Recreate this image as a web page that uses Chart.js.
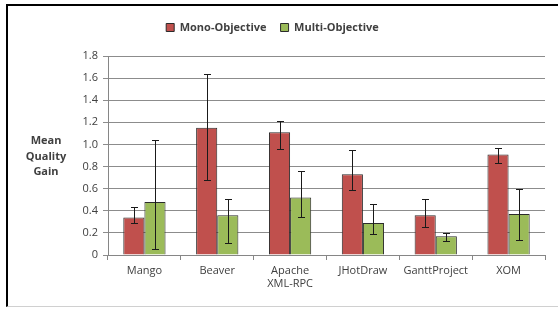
<!DOCTYPE html>
<html>
<head>
<meta charset="utf-8">
<script src="https://cdn.jsdelivr.net/npm/chart.js@4/dist/chart.umd.min.js"></script>
<style>
  body { margin: 0; background: #fff; }
  #frame {
    position: absolute; left: 6px; top: 4px; width: 552px; height: 303px;
    border-top: 2px solid #000; border-left: 2px solid #000; border-bottom: 1px solid #d0d0d0;
    box-sizing: border-box;
  }
  #wrap { position: absolute; left: 0; top: 0; width: 558px; height: 309px; }
</style>
</head>
<body>
<div id="frame"></div>
<div id="wrap"><canvas id="gainChart"></canvas></div>
<script>
const projects = ['Mango', 'Beaver', ['Apache', 'XML-RPC'], 'JHotDraw', 'GanttProject', 'XOM'];
const monoGain = [0.34, 1.15, 1.11, 0.73, 0.36, 0.91];
const monoLow = [0.29, 0.68, 0.96, 0.59, 0.25, 0.83];
const monoHigh = [0.43, 1.64, 1.21, 0.95, 0.51, 0.97];
const multiGain = [0.48, 0.36, 0.52, 0.29, 0.17, 0.37];
const multiLow = [0.05, 0.11, 0.34, 0.19, 0.13, 0.14];
const multiHigh = [1.04, 0.51, 0.76, 0.46, 0.20, 0.60];
const axisTitle = ['Mean', 'Quality', 'Gain'];

const textColor = '#404040';
const fontFamily = '"Open Sans", "Liberation Sans", sans-serif';

// whiskers for each bar
const errorBars = {
    id: 'errorBars',
    afterDatasetsDraw(chart) {
        const ctx = chart.ctx;
        const yScale = chart.scales.y;
        ctx.save();
        ctx.strokeStyle = '#1a1a1a';
        ctx.lineWidth = 1;
        chart.data.datasets.forEach((ds, di) => {
            const meta = chart.getDatasetMeta(di);
            meta.data.forEach((bar, i) => {
                const x = Math.round(bar.x) + 0.5;
                const yHi = Math.round(yScale.getPixelForValue(ds.errHigh[i])) + 0.5;
                const yLo = Math.round(yScale.getPixelForValue(ds.errLow[i])) + 0.5;
                ctx.beginPath();
                ctx.moveTo(x, yHi); ctx.lineTo(x, yLo);
                ctx.moveTo(x - 3.5, yHi); ctx.lineTo(x + 3.5, yHi);
                ctx.moveTo(x - 3.5, yLo); ctx.lineTo(x + 3.5, yLo);
                ctx.stroke();
            });
        });
        ctx.restore();
    }
};

// horizontal y axis title, like the spreadsheet one
const sideTitle = {
    id: 'sideTitle',
    afterDraw(chart) {
        const ctx = chart.ctx;
        const area = chart.chartArea;
        const cx = area.left - 62;
        const cy = (area.top + area.bottom) / 2 + 1;
        ctx.save();
        ctx.fillStyle = textColor;
        ctx.font = 'bold 11px ' + fontFamily;
        ctx.textAlign = 'center';
        ctx.textBaseline = 'middle';
        axisTitle.forEach((t, i) => {
            ctx.fillText(t, cx, cy + (i - 1) * 15.5);
        });
        ctx.restore();
    }
};

const ctx = document.getElementById('gainChart').getContext('2d');
const chart = new Chart(ctx, {
    type: 'bar',
    data: {
        labels: projects,
        datasets: [{
            label: 'Mono-Objective',
            data: monoGain,
            errLow: monoLow,
            errHigh: monoHigh,
            backgroundColor: '#C0504D',
            borderColor: '#2b2b2b',
            borderWidth: 1
        }, {
            label: 'Multi-Objective',
            data: multiGain,
            errLow: multiLow,
            errHigh: multiHigh,
            backgroundColor: '#9BBB59',
            borderColor: '#2b2b2b',
            borderWidth: 1
        }]
    },
    options: {
        responsive: true,
        maintainAspectRatio: false,
        animation: false,
        categoryPercentage: 0.58,
        barPercentage: 1,
        layout: { padding: { top: 8, right: 13, left: 0, bottom: 0 } },
        plugins: {
            legend: {
                position: 'top',
                labels: {
                    boxWidth: 8,
                    boxHeight: 8,
                    padding: 14,
                    color: textColor,
                    font: { family: fontFamily, size: 11, weight: 'bold' }
                }
            },
            tooltip: { enabled: false }
        },
        scales: {
            x: {
                offset: true,
                grid: { drawOnChartArea: false, offset: true, tickLength: 5, color: '#868686' },
                border: { color: '#868686' },
                ticks: { color: textColor, font: { family: fontFamily, size: 11 }, padding: 4, maxRotation: 0 },
                afterFit(scale) { scale.height = 54; }
            },
            y: {
                min: 0,
                max: 1.8,
                ticks: { stepSize: 0.2, color: textColor, font: { family: fontFamily, size: 11 }, padding: 5 },
                grid: { color: '#8c8c8c', tickLength: 5 },
                border: { color: '#868686' },
                afterFit(scale) { scale.width = 108; }
            }
        }
    },
    plugins: [errorBars, sideTitle]
});

// more room under the legend
const legendFit = chart.legend.fit;
chart.legend.fit = function () {
    legendFit.call(this);
    this.height += 13;
};
chart.update();
</script>
</body>
</html>
